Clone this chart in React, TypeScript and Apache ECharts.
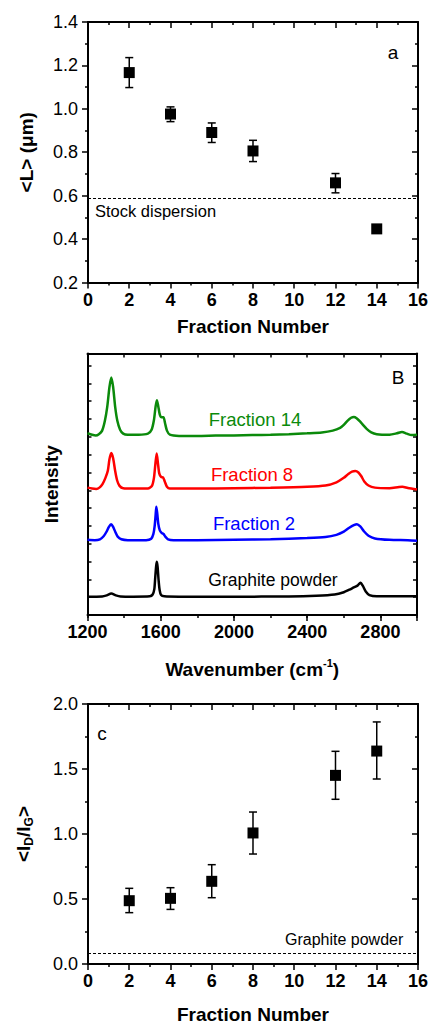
import React, { useEffect, useRef } from "react";
import * as echarts from "echarts";

const FONT = "'Liberation Sans', Arial, Helvetica, sans-serif";

// Panel a: flake length vs fraction number
const fractions = [2, 4, 6, 8, 12, 14];
const lengthMean = [1.167, 0.976, 0.891, 0.806, 0.659, 0.447];
const lengthLow = [1.098, 0.941, 0.845, 0.757, 0.613, 0.43];
const lengthHigh = [1.236, 1.009, 0.935, 0.855, 0.702, 0.465];
const stockLength = 0.59;
const lengthTicks = { min: 0.2, max: 1.4, interval: 0.2 };

// Panel c: I_D/I_G vs fraction number
const ratioMean = [0.487, 0.505, 0.636, 1.008, 1.451, 1.638];
const ratioLow = [0.395, 0.42, 0.51, 0.846, 1.267, 1.423];
const ratioHigh = [0.582, 0.587, 0.764, 1.169, 1.636, 1.862];
const graphiteRatio = 0.082;
const ratioTicks = { min: 0, max: 2, interval: 0.5 };

// Panel b: Raman spectra (wavenumber, offset intensity)
const ramanF14 = [
  [1200, 10.2], [1225, 10.12], [1245, 10.08], [1262, 10.15], [1280, 10.35], [1295, 10.9], [1308, 11.7],
  [1320, 12.8], [1330, 13.33], [1340, 12.8], [1351, 11.7], [1363, 10.9], [1378, 10.4], [1395, 10.18],
  [1420, 10.12], [1480, 10.12], [1530, 10.18], [1550, 10.4], [1563, 10.95], [1572, 11.7], [1579, 12.06],
  [1586, 11.75], [1595, 11.25], [1605, 11.1], [1615, 11.1], [1624, 10.75], [1634, 10.35], [1650, 10.12],
  [1700, 10.05], [1800, 10.05], [1900, 10.07], [2000, 10.08], [2100, 10.1], [2200, 10.12], [2300, 10.15],
  [2400, 10.2], [2480, 10.25], [2540, 10.35], [2580, 10.5], [2600, 10.67], [2620, 10.9], [2640, 11.07],
  [2655, 11.12], [2670, 11.05], [2690, 10.85], [2705, 10.67], [2725, 10.45], [2750, 10.25], [2780, 10.15],
  [2850, 10.12], [2890, 10.2], [2918, 10.28], [2945, 10.18], [2970, 10.1], [3000, 10.12],
];
const ramanF8 = [
  [1200, 7.15], [1225, 7.1], [1248, 7.08], [1265, 7.15], [1282, 7.35], [1298, 7.7], [1311, 8.1],
  [1320, 8.75], [1330, 9.1], [1340, 8.8], [1351, 8.1], [1362, 7.55], [1375, 7.25], [1395, 7.12],
  [1450, 7.1], [1530, 7.1], [1552, 7.25], [1563, 7.7], [1571, 8.5], [1578, 9.07], [1585, 8.5],
  [1592, 7.95], [1602, 7.75], [1613, 7.72], [1622, 7.5], [1634, 7.2], [1650, 7.1], [1800, 7.1],
  [2000, 7.12], [2200, 7.15], [2400, 7.2], [2500, 7.27], [2560, 7.45], [2600, 7.7], [2625, 7.92],
  [2645, 8.05], [2663, 8.08], [2680, 8.0], [2695, 7.8], [2712, 7.5], [2735, 7.27], [2770, 7.15],
  [2850, 7.12], [2895, 7.17], [2920, 7.2], [2950, 7.13], [3000, 7.05],
];
const ramanF2 = [
  [1200, 4.22], [1240, 4.2], [1268, 4.25], [1288, 4.42], [1303, 4.66], [1317, 4.95], [1329, 5.1],
  [1340, 4.95], [1352, 4.66], [1365, 4.4], [1385, 4.25], [1420, 4.2], [1520, 4.2], [1548, 4.28],
  [1560, 4.55], [1567, 5.0], [1572, 5.6], [1576, 6.07], [1581, 5.7], [1587, 5.1], [1595, 4.75],
  [1606, 4.6], [1615, 4.55], [1625, 4.4], [1640, 4.25], [1670, 4.2], [1800, 4.2], [2000, 4.22],
  [2200, 4.25], [2400, 4.32], [2500, 4.38], [2560, 4.5], [2600, 4.68], [2630, 4.9], [2655, 5.05],
  [2672, 5.1], [2690, 4.97], [2710, 4.7], [2735, 4.45], [2770, 4.3], [2850, 4.22], [2950, 4.2],
  [3000, 4.17],
];
const ramanGraphite = [
  [1200, 1.03], [1280, 1.04], [1305, 1.1], [1330, 1.2], [1355, 1.1], [1380, 1.04], [1450, 1.03],
  [1540, 1.05], [1556, 1.15], [1565, 1.45], [1570, 2.1], [1575, 2.75], [1579, 2.99], [1583, 2.7],
  [1588, 2.0], [1594, 1.4], [1602, 1.12], [1620, 1.05], [1700, 1.03], [2000, 1.03], [2300, 1.04],
  [2450, 1.08], [2550, 1.15], [2600, 1.28], [2630, 1.42], [2655, 1.55], [2675, 1.65], [2691, 1.81],
  [2705, 1.62], [2720, 1.32], [2740, 1.12], [2780, 1.05], [3000, 1.05],
];
const ramanXTicks = { min: 1200, max: 3000, labelStep: 400, tickStep: 200 };
const ramanYRange = { min: 0, max: 14.68, interval: 1 };
const fractionTicks = { min: 0, max: 16, interval: 2 };

const GREEN = "#0b8a0b";
const RED = "#ff0000";
const BLUE = "#0000ff";

const lineW = 2;

function xAxisPair(grid: number, cfg: any, bottomExtra: any) {
  const base = {
    gridIndex: grid,
    type: "value",
    min: cfg.min,
    max: cfg.max,
    splitLine: { show: false },
    axisLine: { onZero: false, lineStyle: { color: "#000", width: lineW } },
  };
  return [
    {
      ...base,
      position: "bottom",
      interval: cfg.interval,
      axisTick: { length: 6, lineStyle: { color: "#000", width: 1.5 } },
      minorTick: { show: true, splitNumber: 2, length: 3, lineStyle: { color: "#000", width: 1.5 } },
      axisLabel: { color: "#000", fontSize: 18, fontWeight: "bold", fontFamily: FONT, margin: 8 },
      nameLocation: "middle",
      nameTextStyle: { color: "#000", fontSize: 19, fontWeight: "bold", fontFamily: FONT },
      ...bottomExtra,
    },
    {
      ...base,
      position: "top",
      interval: cfg.interval,
      axisTick: { inside: true, length: 6, lineStyle: { color: "#000", width: 1.5 } },
      minorTick: { show: true, splitNumber: 2, length: 3, lineStyle: { color: "#000", width: 1.5 } },
      axisLabel: { show: false },
    },
  ];
}

function yAxisPair(grid: number, cfg: any, leftExtra: any, fmt: (v: number) => string) {
  const base = {
    gridIndex: grid,
    type: "value",
    min: cfg.min,
    max: cfg.max,
    interval: cfg.interval,
    splitLine: { show: false },
    axisLine: { onZero: false, lineStyle: { color: "#000", width: lineW } },
  };
  return [
    {
      ...base,
      position: "left",
      axisTick: { length: 6, lineStyle: { color: "#000", width: 1.5 } },
      minorTick: { show: true, splitNumber: 2, length: 3, lineStyle: { color: "#000", width: 1.5 } },
      axisLabel: { color: "#000", fontSize: 18, fontFamily: FONT, margin: 10, formatter: fmt },
      nameLocation: "middle",
      nameTextStyle: { color: "#000", fontSize: 19, fontWeight: "bold", fontFamily: FONT },
      ...leftExtra,
    },
    {
      ...base,
      position: "right",
      axisTick: { inside: true, length: 6, lineStyle: { color: "#000", width: 1.5 } },
      minorTick: { show: true, splitNumber: 2, length: 3, lineStyle: { color: "#000", width: 1.5 } },
      axisLabel: { show: false },
    },
  ];
}

function errorBarSeries(xi: number, yi: number, lows: number[], highs: number[]) {
  return {
    type: "custom",
    xAxisIndex: xi,
    yAxisIndex: yi,
    data: fractions.map((f, i) => [f, lows[i], highs[i]]),
    encode: { x: 0, y: [1, 2] },
    z: 2,
    renderItem: (params: any, api: any) => {
      const x = api.value(0);
      const pHi = api.coord([x, api.value(2)]);
      const pLo = api.coord([x, api.value(1)]);
      const w = 4;
      const st = { stroke: "#000", lineWidth: 1.5 };
      return {
        type: "group",
        children: [
          { type: "line", shape: { x1: pHi[0], y1: pHi[1], x2: pLo[0], y2: pLo[1] }, style: st },
          { type: "line", shape: { x1: pHi[0] - w, y1: pHi[1], x2: pHi[0] + w, y2: pHi[1] }, style: st },
          { type: "line", shape: { x1: pLo[0] - w, y1: pLo[1], x2: pLo[0] + w, y2: pLo[1] }, style: st },
        ],
      };
    },
  };
}

function txt(text: string, x: number, y: number, color: string, align: string, size = 17) {
  return {
    type: "text",
    x,
    y,
    z: 10,
    style: {
      text,
      fill: color,
      fontSize: size,
      fontFamily: FONT,
      align,
      verticalAlign: "middle",
      textAlign: align,
      textVerticalAlign: "middle",
    },
  };
}

export default function App() {
  const ref = useRef<HTMLDivElement>(null);
  useEffect(() => {
    if (!ref.current) return;
    const chart = echarts.init(ref.current, null, { renderer: "svg" });
    const fmt1 = (v: number) => v.toFixed(1);

    const xA = xAxisPair(0, fractionTicks, { name: "Fraction Number", nameGap: 34 });
    const xB = xAxisPair(
      1,
      { min: ramanXTicks.min, max: ramanXTicks.max, interval: ramanXTicks.tickStep },
      {
        name: "{t|Wavenumber (cm}{p|-1}{t|)}",
        nameGap: 42,
        nameTextStyle: {
          rich: {
            t: { fontSize: 19, fontWeight: "bold", fontFamily: FONT, color: "#000", lineHeight: 24, verticalAlign: "middle" },
            p: { fontSize: 11, fontWeight: "bold", fontFamily: FONT, color: "#000", lineHeight: 12, verticalAlign: "top" },
          },
        },
        axisTick: { length: 3, lineStyle: { color: "#000", width: 1.5 } },
        minorTick: { show: false },
        axisLabel: {
          color: "#000",
          fontSize: 18,
          fontWeight: "bold",
          fontFamily: FONT,
          margin: 8,
          formatter: (v: number) => (v % ramanXTicks.labelStep === 0 && v < ramanXTicks.max ? String(v) : ""),
        },
      }
    );
    xB[1].minorTick = { show: false } as any;
    (xB[1].axisTick as any).length = 4;
    const xBMajor = {
      gridIndex: 1,
      type: "value",
      position: "bottom",
      min: ramanXTicks.min,
      max: ramanXTicks.max,
      interval: ramanXTicks.labelStep,
      axisLine: { show: false, onZero: false },
      axisTick: { length: 6, lineStyle: { color: "#000", width: 1.5 } },
      axisLabel: { show: false },
      splitLine: { show: false },
    };
    const xC = xAxisPair(2, fractionTicks, { name: "Fraction Number", nameGap: 41 });

    const yA = yAxisPair(0, lengthTicks, { name: "<L> (\u03bcm)", nameGap: 52 }, fmt1);
    const yB = yAxisPair(
      1,
      ramanYRange,
      {
        name: "Intensity",
        nameGap: 27,
        axisTick: { inside: true, length: 4, lineStyle: { color: "#000", width: 1.5 } },
        minorTick: { show: false },
        axisLabel: { show: false },
      },
      fmt1
    );
    yB[1].minorTick = { show: false } as any;
    (yB[1].axisTick as any).length = 4;
    const yC = yAxisPair(
      2,
      ratioTicks,
      {
        name: "{a|<I}{s|D}{a|/I}{s|G}{a|>}",
        nameGap: 53,
        nameTextStyle: {
          rich: {
            a: { fontSize: 19, fontWeight: "bold", fontFamily: FONT, color: "#000", lineHeight: 24, verticalAlign: "middle" },
            s: { fontSize: 12, fontWeight: "bold", fontFamily: FONT, color: "#000", lineHeight: 12, verticalAlign: "bottom" },
          },
        },
      },
      fmt1
    );

    const option: any = {
      animation: false,
      backgroundColor: "#fff",
      grid: [
        { left: 88, width: 330, top: 22, height: 260.5 },
        { left: 87.5, width: 329.5, top: 353.5, height: 261.5 },
        { left: 88, width: 330, top: 704, height: 260 },
      ],
      xAxis: [...xA, ...xB, xBMajor, ...xC],
      yAxis: [...yA, ...yB, ...yC],
      series: [
        errorBarSeries(0, 0, lengthLow, lengthHigh),
        {
          type: "scatter",
          xAxisIndex: 0,
          yAxisIndex: 0,
          symbol: "rect",
          symbolSize: 11,
          itemStyle: { color: "#000", opacity: 1 },
          z: 3,
          data: fractions.map((f, i) => [f, lengthMean[i]]),
          markLine: {
            silent: true,
            symbol: ["none", "none"],
            label: { show: false },
            lineStyle: { color: "#000", width: 1, type: [3, 2] },
            data: [{ yAxis: stockLength }],
          },
        },
        ...[
          [ramanGraphite, "#000"],
          [ramanF2, BLUE],
          [ramanF8, RED],
          [ramanF14, GREEN],
        ].map(([d, c]) => ({
          type: "line",
          xAxisIndex: 2,
          yAxisIndex: 2,
          data: d,
          showSymbol: false,
          smooth: 0.25,
          lineStyle: { color: c, width: 2.5 },
        })),
        errorBarSeries(5, 4, ratioLow, ratioHigh),
        {
          type: "scatter",
          xAxisIndex: 5,
          yAxisIndex: 4,
          symbol: "rect",
          symbolSize: 11,
          itemStyle: { color: "#000", opacity: 1 },
          z: 3,
          data: fractions.map((f, i) => [f, ratioMean[i]]),
          markLine: {
            silent: true,
            symbol: ["none", "none"],
            label: { show: false },
            lineStyle: { color: "#000", width: 1, type: [3, 2] },
            data: [{ yAxis: graphiteRatio }],
          },
        },
      ],
      graphic: [
        txt("a", 393, 52, "#000", "center", 19),
        txt("Stock dispersion", 95, 211, "#000", "left", 16.5),
        txt("B", 398, 377, "#000", "center", 19),
        txt("Fraction 14", 255, 419, GREEN, "center", 18.5),
        txt("Fraction 8", 252, 474, RED, "center", 18.5),
        txt("Fraction 2", 254, 523, BLUE, "center", 18.5),
        txt("Graphite powder", 273, 580, "#000", "center", 17.5),
        txt("c", 102, 733, "#000", "center", 19),
        txt("Graphite powder", 285, 939, "#000", "left", 16),
      ],
    };
    chart.setOption(option);
    return () => chart.dispose();
  }, []);
  return (
    <div
      ref={ref}
      style={{ position: "absolute", left: 0, top: 0, width: 431, height: 1025, background: "#fff" }}
    />
  );
}
